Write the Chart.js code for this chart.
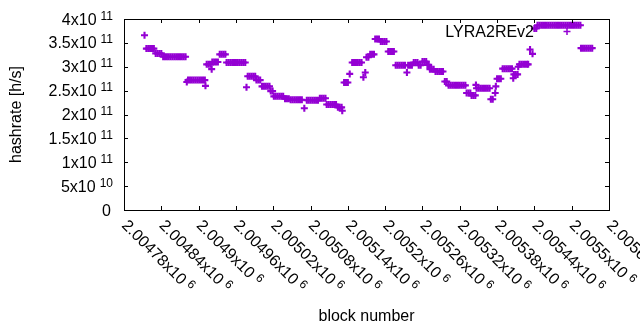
<!DOCTYPE html>
<html>
<head>
<meta charset="utf-8">
<script src="https://cdn.jsdelivr.net/npm/chart.js@4.4.0/dist/chart.umd.min.js"></script>
<style>
  html, body { margin: 0; padding: 0; background: #fff; }
  canvas { display: block; }
</style>
</head>
<body>
<canvas id="chart" width="640" height="330"></canvas>
<script>
/* ── Data ───────────────────────────────────────────────────── */

const SERIES_LABEL = 'LYRA2REv2';

const BLOCKS = [
  2004813,
  2004816, 2004819, 2004822, 2004825, 2004828,
  2004831, 2004834, 2004837, 2004840,
  2004843, 2004846, 2004849, 2004852, 2004855, 2004858, 2004861, 2004864, 2004867, 2004870, 2004873, 2004876, 2004879,
  2004881,
  2004883, 2004886, 2004889, 2004892, 2004895, 2004898, 2004901, 2004904, 2004907, 2004910,
  2004911,
  2004913, 2004916, 2004919,
  2004921,
  2004922, 2004925, 2004928, 2004931,
  2004934, 2004937, 2004940, 2004943,
  2004945, 2004948, 2004951, 2004954, 2004957, 2004960, 2004963, 2004966, 2004969, 2004972, 2004975,
  2004977,
  2004979, 2004982, 2004985, 2004988, 2004991,
  2004993, 2004996, 2004999,
  2005002, 2005005, 2005008, 2005011, 2005014,
  2005016, 2005019,
  2005021, 2005024, 2005027, 2005030, 2005033, 2005036,
  2005039, 2005042, 2005045,
  2005048, 2005051, 2005054, 2005057, 2005060, 2005063, 2005066,
  2005070,
  2005074, 2005077, 2005080, 2005083, 2005086, 2005089, 2005092,
  2005095, 2005098, 2005101, 2005104,
  2005106, 2005109, 2005112, 2005115, 2005118, 2005121,
  2005124, 2005127, 2005130,
  2005131,
  2005134, 2005137, 2005140,
  2005143,
  2005147, 2005150, 2005153, 2005156, 2005159, 2005162,
  2005165,
  2005168,
  2005170, 2005173,
  2005176, 2005179, 2005182,
  2005184, 2005187, 2005190,
  2005193, 2005196, 2005199, 2005202,
  2005205, 2005208, 2005211, 2005214,
  2005217, 2005220, 2005223, 2005226, 2005229, 2005232,
  2005235,
  2005237, 2005240, 2005243,
  2005246, 2005249, 2005252,
  2005254, 2005257,
  2005260, 2005263, 2005266,
  2005268, 2005270,
  2005272, 2005275, 2005278,
  2005281, 2005284, 2005287, 2005290, 2005293,
  2005296, 2005299,
  2005302, 2005305, 2005308, 2005311, 2005314, 2005317, 2005320, 2005323, 2005326, 2005329,
  2005331, 2005334, 2005337,
  2005339, 2005342, 2005345,
  2005346,
  2005347, 2005350, 2005353, 2005356, 2005359, 2005362, 2005365, 2005368,
  2005370, 2005373,
  2005377,
  2005378,
  2005380, 2005383, 2005386,
  2005389, 2005392, 2005395, 2005398, 2005401, 2005404,
  2005406,
  2005407, 2005410, 2005413,
  2005414,
  2005416, 2005419, 2005422, 2005425, 2005428, 2005430,
  2005433,
  2005437,
  2005440, 2005443,
  2005445, 2005448, 2005451, 2005454, 2005457, 2005460, 2005463, 2005466, 2005469, 2005472, 2005475, 2005478,
  2005481, 2005484, 2005487, 2005490, 2005493, 2005496, 2005499, 2005502, 2005505, 2005508, 2005511, 2005514,
  2005515, 2005518, 2005521, 2005524, 2005527, 2005530, 2005533,
];

const HASHRATE = [
  3.66e11,
  3.38e11, 3.38e11, 3.38e11, 3.38e11, 3.38e11,
  3.28e11, 3.28e11, 3.28e11, 3.28e11,
  3.21e11, 3.21e11, 3.21e11, 3.21e11, 3.21e11, 3.21e11, 3.21e11, 3.21e11, 3.21e11, 3.21e11, 3.21e11, 3.21e11, 3.21e11,
  2.68e11,
  2.72e11, 2.72e11, 2.72e11, 2.72e11, 2.72e11, 2.72e11, 2.72e11, 2.72e11, 2.72e11, 2.72e11,
  2.60e11,
  3.05e11, 3.05e11, 3.05e11,
  2.95e11,
  3.10e11, 3.10e11, 3.10e11, 3.10e11,
  3.26e11, 3.26e11, 3.26e11, 3.26e11,
  3.09e11, 3.09e11, 3.09e11, 3.09e11, 3.09e11, 3.09e11, 3.09e11, 3.09e11, 3.09e11, 3.09e11, 3.09e11,
  2.57e11,
  2.80e11, 2.80e11, 2.80e11, 2.80e11, 2.80e11,
  2.72e11, 2.72e11, 2.72e11,
  2.59e11, 2.59e11, 2.59e11, 2.59e11, 2.59e11,
  2.49e11, 2.49e11,
  2.38e11, 2.38e11, 2.38e11, 2.38e11, 2.38e11, 2.38e11,
  2.33e11, 2.33e11, 2.33e11,
  2.31e11, 2.31e11, 2.31e11, 2.31e11, 2.31e11, 2.31e11, 2.31e11,
  2.13e11,
  2.30e11, 2.30e11, 2.30e11, 2.30e11, 2.30e11, 2.30e11, 2.30e11,
  2.34e11, 2.34e11, 2.34e11, 2.34e11,
  2.21e11, 2.21e11, 2.21e11, 2.21e11, 2.21e11, 2.21e11,
  2.15e11, 2.15e11, 2.15e11,
  2.08e11,
  2.67e11, 2.67e11, 2.67e11,
  2.85e11,
  3.09e11, 3.09e11, 3.09e11, 3.09e11, 3.09e11, 3.09e11,
  2.78e11,
  2.88e11,
  3.20e11, 3.20e11,
  3.26e11, 3.26e11, 3.26e11,
  3.58e11, 3.58e11, 3.58e11,
  3.53e11, 3.53e11, 3.53e11, 3.53e11,
  3.32e11, 3.32e11, 3.32e11, 3.32e11,
  3.03e11, 3.03e11, 3.03e11, 3.03e11, 3.03e11, 3.03e11,
  2.88e11,
  3.03e11, 3.03e11, 3.03e11,
  3.09e11, 3.09e11, 3.09e11,
  3.03e11, 3.03e11,
  3.11e11, 3.11e11, 3.11e11,
  3.04e11, 3.04e11,
  2.95e11, 2.95e11, 2.95e11,
  2.90e11, 2.90e11, 2.90e11, 2.90e11, 2.90e11,
  2.69e11, 2.69e11,
  2.61e11, 2.61e11, 2.61e11, 2.61e11, 2.61e11, 2.61e11, 2.61e11, 2.61e11, 2.61e11, 2.61e11,
  2.45e11, 2.45e11, 2.45e11,
  2.40e11, 2.40e11, 2.40e11,
  2.62e11,
  2.55e11, 2.55e11, 2.55e11, 2.55e11, 2.55e11, 2.55e11, 2.55e11, 2.55e11,
  2.32e11, 2.32e11,
  2.45e11,
  2.59e11,
  2.75e11, 2.75e11, 2.75e11,
  2.96e11, 2.96e11, 2.96e11, 2.96e11, 2.96e11, 2.96e11,
  2.76e11,
  2.84e11, 2.84e11, 2.84e11,
  3.00e11,
  3.05e11, 3.05e11, 3.05e11, 3.05e11, 3.05e11, 3.05e11,
  3.36e11,
  3.27e11,
  3.80e11, 3.80e11,
  3.87e11, 3.87e11, 3.87e11, 3.87e11, 3.87e11, 3.87e11, 3.87e11, 3.87e11, 3.87e11, 3.87e11, 3.87e11, 3.87e11,
  3.87e11, 3.87e11, 3.87e11, 3.87e11, 3.87e11, 3.87e11, 3.87e11, 3.87e11, 3.87e11, 3.87e11, 3.87e11, 3.87e11,
  3.39e11, 3.39e11, 3.39e11, 3.39e11, 3.39e11, 3.39e11, 3.39e11,
];

const X_TICKS     = [2004780, 2004840, 2004900, 2004960, 2005020, 2005080, 2005140,
                     2005200, 2005260, 2005320, 2005380, 2005440, 2005500, 2005560];
const X_TICK_BASE = ['2.00478', '2.00484', '2.0049', '2.00496', '2.00502', '2.00508', '2.00514',
                     '2.0052', '2.00526', '2.00532', '2.00538', '2.00544', '2.0055', '2.0056'];
const X_TICK_EXP  = '6';

const Y_TICKS     = [0, 5e10, 1e11, 1.5e11, 2e11, 2.5e11, 3e11, 3.5e11, 4e11];
const Y_TICK_BASE = ['0', '5', '1', '1.5', '2', '2.5', '3', '3.5', '4'];
const Y_TICK_EXP  = ['', '10', '11', '11', '11', '11', '11', '11', '11'];

/* ── Style ───────────────────────────────────────────────────── */
const COLOR = '#9400d3';
const FONT  = '"Liberation Sans", Arial, sans-serif';
const TICK  = 4;

/* ── gnuplot-like frame, tick labels and key ─────────────────── */
const frame = {
  id: 'frame',
  afterDraw(chart) {
    const { ctx, chartArea: a, scales: { x, y } } = chart;
    ctx.save();

    // border + mirrored inward ticks
    ctx.strokeStyle = '#000';
    ctx.lineWidth = 1;
    ctx.strokeRect(a.left + 0.5, a.top + 0.5, a.right - a.left, a.bottom - a.top);
    ctx.beginPath();
    Y_TICKS.forEach(v => {
      const py = Math.round(y.getPixelForValue(v)) + 0.5;
      ctx.moveTo(a.left, py);  ctx.lineTo(a.left + TICK, py);
      ctx.moveTo(a.right, py); ctx.lineTo(a.right - TICK, py);
    });
    X_TICKS.forEach(v => {
      const px = Math.round(x.getPixelForValue(v)) + 0.5;
      ctx.moveTo(px, a.bottom); ctx.lineTo(px, a.bottom - TICK);
      ctx.moveTo(px, a.top);    ctx.lineTo(px, a.top + TICK);
    });
    ctx.stroke();

    ctx.fillStyle = '#000';
    ctx.textBaseline = 'alphabetic';

    // y tick labels  "3.5x10^11"
    Y_TICKS.forEach((v, i) => {
      const py = y.getPixelForValue(v);
      ctx.textAlign = 'left';
      if (!Y_TICK_EXP[i]) {
        ctx.font = `16px ${FONT}`;
        ctx.textAlign = 'right';
        ctx.fillText(Y_TICK_BASE[i], 111, py + 5.5);
        return;
      }
      const base = Y_TICK_BASE[i] + 'x10';
      ctx.font = `12px ${FONT}`;
      const wE = ctx.measureText(Y_TICK_EXP[i]).width;
      ctx.font = `16px ${FONT}`;
      const wB = ctx.measureText(base).width;
      const xE = 113 - wE;
      ctx.fillText(base, xE - 4 - wB, py + 5.5);
      ctx.font = `12px ${FONT}`;
      ctx.fillText(Y_TICK_EXP[i], xE, py + 0.5);
    });

    // x tick labels, rotated -45°
    X_TICKS.forEach((v, i) => {
      const px = x.getPixelForValue(v);
      const base = X_TICK_BASE[i] + 'x10';
      ctx.save();
      ctx.translate(px + 1, 222.4);
      ctx.rotate(Math.PI / 4);
      ctx.textAlign = 'left';
      ctx.font = `16px ${FONT}`;
      ctx.fillText(base, 0, 5.5);
      const wB = ctx.measureText(base).width;
      ctx.font = `12px ${FONT}`;
      ctx.fillText(X_TICK_EXP, wB + 4, 0.5);
      ctx.restore();
    });

    // axis titles
    ctx.font = `16px ${FONT}`;
    ctx.textAlign = 'center';
    ctx.fillText('block number', (a.left + a.right) / 2, 321);
    ctx.save();
    ctx.translate(20.5, (a.top + a.bottom) / 2);
    ctx.rotate(-Math.PI / 2);
    ctx.fillText('hashrate [h/s]', 0, 0);
    ctx.restore();

    // key
    ctx.textAlign = 'right';
    ctx.fillText(chart.data.datasets[0].label, 534, 37);
    ctx.strokeStyle = COLOR;
    ctx.lineWidth = 1.5;
    ctx.beginPath();
    ctx.moveTo(563.5, 31.5); ctx.lineTo(570.5, 31.5);
    ctx.moveTo(567, 28);     ctx.lineTo(567, 35);
    ctx.stroke();

    ctx.restore();
  },
};

/* ── Chart ───────────────────────────────────────────────────── */
new Chart(document.getElementById('chart'), {
  type: 'scatter',
  data: {
    datasets: [{
      label: SERIES_LABEL,
      data: BLOCKS.map((b, i) => ({ x: b, y: HASHRATE[i] })),
      pointStyle: 'cross',
      pointRadius: 3.5,
      pointBorderWidth: 2.1,
      borderColor: COLOR,
      backgroundColor: COLOR,
    }],
  },
  options: {
    responsive: false,
    devicePixelRatio: 1,
    animation: false,
    layout: { padding: { left: 124, top: 19, right: 31, bottom: 120 } },
    plugins: { legend: { display: false }, tooltip: { enabled: false } },
    scales: {
      x: { type: 'linear', display: false, min: 2004780, max: 2005560 },
      y: { type: 'linear', display: false, min: 0, max: 4e11 },
    },
  },
  plugins: [frame],
});
</script>
</body>
</html>
